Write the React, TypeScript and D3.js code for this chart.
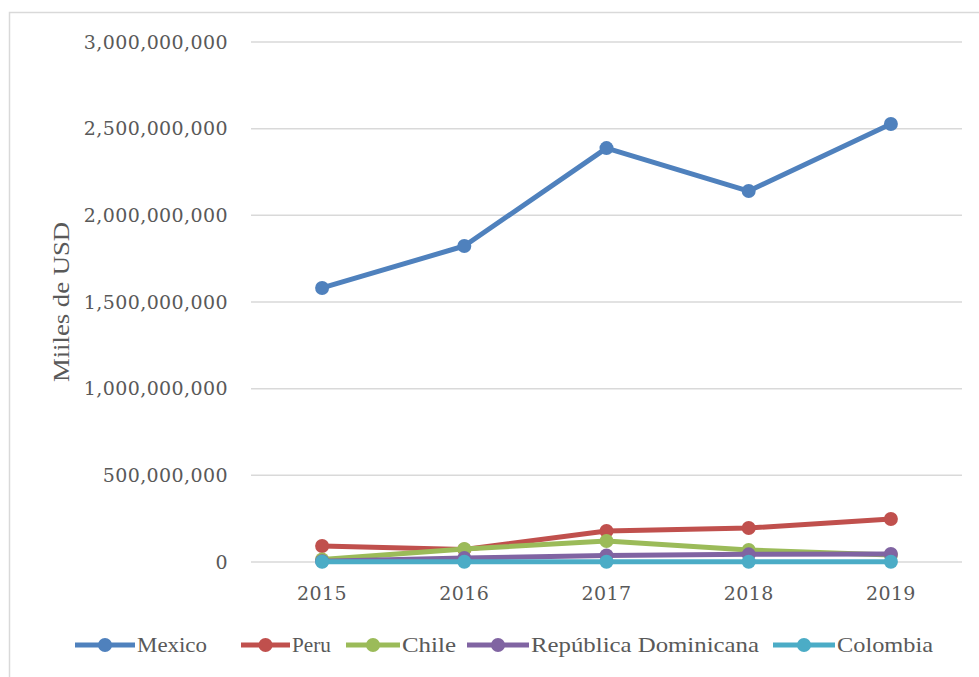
import React from "react";
import * as d3 from "d3";

const years = ["2015", "2016", "2017", "2018", "2019"];
const mexico = [1581000000, 1823000000, 2388000000, 2140000000, 2527000000];
const peru = [92000000, 72000000, 179000000, 196000000, 248000000];
const chile = [14000000, 75000000, 121000000, 69000000, 40000000];
const repDom = [5000000, 23000000, 38000000, 44000000, 46000000];
const colombia = [1500000, 1500000, 1500000, 1500000, 1500000];
const yTicks = [0, 500000000, 1000000000, 1500000000, 2000000000, 2500000000, 3000000000];

const seriesNames = ["Mexico", "Peru", "Chile", "República Dominicana", "Colombia"];
const seriesValues = [mexico, peru, chile, repDom, colombia];
const colors = ["#4F81BD", "#C0504D", "#9BBB59", "#8064A2", "#4BACC6"];

const W = 979;
const H = 677;
const left = 251;
const right = 962;
const top = 42;
const bottom = 562;

export default function App() {
  const x = d3.scaleBand<string>().domain(years).range([left, right]);
  const y = d3.scaleLinear().domain([0, 3000000000]).range([bottom, top]);
  const fmt = d3.format(",");
  const line = d3
    .line<number>()
    .x((_, i) => (x(years[i]) as number) + x.bandwidth() / 2)
    .y((d) => y(d));

  const legendX = [75, 241, 346, 467, 773];
  const legendTextW = [70, 39, 54, 228, 96];
  const legendLineW = [60, 49, 54, 62, 62];
  const textColor = "#595959";

  return (
    <svg
      width={W}
      height={H}
      style={{ position: "absolute", left: 0, top: 0, display: "block", background: "#fff" }}
    >
      <rect x={9.5} y={12.5} width={1100} height={800} fill="#fff" stroke="#d9d9d9" strokeWidth={1.5} />
      {yTicks.map((t) => (
        <g key={t}>
          <line x1={left} x2={right} y1={y(t)} y2={y(t)} stroke="#d9d9d9" strokeWidth={1.5} />
          <text
            x={228}
            y={y(t)}
            dy="0.35em"
            textAnchor="end"
            fontFamily="'DejaVu Serif', serif"
            fontSize={19}
            letterSpacing={0.4}
            fill={textColor}
          >
            {fmt(t)}
          </text>
        </g>
      ))}
      {years.map((yr) => (
        <text
          key={yr}
          x={(x(yr) as number) + x.bandwidth() / 2}
          y={600}
          textAnchor="middle"
          fontFamily="'DejaVu Serif', serif"
          fontSize={19}
          letterSpacing={0.4}
          fill={textColor}
        >
          {yr}
        </text>
      ))}
      <text
        transform={`translate(69,302) rotate(-90)`}
        textAnchor="middle"
        fontFamily="'Liberation Serif', serif"
        fontSize={24}
        fill={textColor}
        textLength={160}
        lengthAdjust="spacingAndGlyphs"
      >
        Miiles de USD
      </text>
      {seriesValues.map((vals, si) => (
        <g key={seriesNames[si]}>
          <path d={line(vals) || ""} fill="none" stroke={colors[si]} strokeWidth={5} strokeLinejoin="round" />
          {vals.map((v, i) => (
            <circle
              key={i}
              cx={(x(years[i]) as number) + x.bandwidth() / 2}
              cy={y(v)}
              r={7}
              fill={colors[si]}
            />
          ))}
        </g>
      ))}
      {seriesNames.map((n, i) => (
        <g key={n}>
          <line
            x1={legendX[i]}
            x2={legendX[i] + legendLineW[i]}
            y1={645}
            y2={645}
            stroke={colors[i]}
            strokeWidth={5}
          />
          <circle cx={legendX[i] + legendLineW[i] / 2} cy={645} r={7} fill={colors[i]} />
          <text
            x={legendX[i] + legendLineW[i] + 2}
            y={652}
            fontFamily="'Liberation Serif', serif"
            fontSize={22}
            fill={textColor}
            textLength={legendTextW[i]}
            lengthAdjust="spacingAndGlyphs"
          >
            {n}
          </text>
        </g>
      ))}
    </svg>
  );
}
